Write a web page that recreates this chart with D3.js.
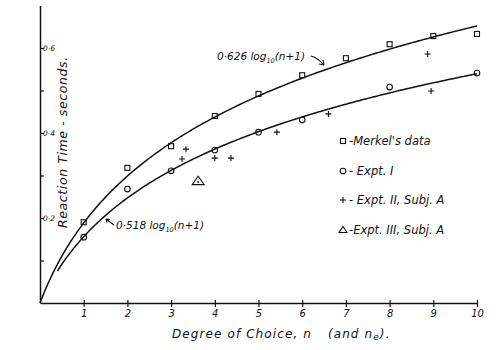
<!DOCTYPE html>
<html>
<head>
<meta charset="utf-8">
<script src="https://cdn.jsdelivr.net/npm/d3@7"></script>
<style>
  html, body { margin: 0; padding: 0; background: #fff; }
  svg { display: block; }
  text { font-family: "DejaVu Sans", sans-serif; font-style: italic; fill: #111; }
</style>
</head>
<body>
<svg id="chart" width="501" height="350"></svg>
<script>
// Reaction time against degree of choice
const merkelN = [1, 2, 3, 4, 5, 6, 7, 8, 9, 10];
const merkelT = [0.190, 0.318, 0.369, 0.440, 0.492, 0.536, 0.576, 0.609, 0.628, 0.633];

const expt1N = [1, 2, 3, 4, 5, 6, 8, 10];
const expt1T = [0.155, 0.268, 0.311, 0.360, 0.402, 0.431, 0.508, 0.541];

const expt2N = [3.25, 3.34, 4.0, 4.37, 5.42, 6.6, 8.87, 8.95];
const expt2T = [0.339, 0.362, 0.341, 0.341, 0.402, 0.445, 0.586, 0.499];

const expt3N = [3.62];
const expt3T = [0.287];

// Fitted curves: k * log10(n + 1)
const fitK = [0.626, 0.518];
const fitStart = [0, 0.4];

const xTicks = [1, 2, 3, 4, 5, 6, 7, 8, 9, 10];
const yTicks = [0.1, 0.2, 0.3, 0.4, 0.5, 0.6];
const yLabelled = [0.2, 0.4, 0.6];

const legendLabels = ["-Merkel's data", "- Expt. I", "- Expt. II, Subj. A", "-Expt. III, Subj. A"];

const svg = d3.select("#chart");
const x = d3.scaleLinear().domain([0, 10]).range([40, 477]);
const y = d3.scaleLinear().domain([0, 0.7]).range([303, 5.5]);

const ink = "#111";

// x axis, ticks crossing the line
const xAxis = svg.append("g")
  .attr("transform", `translate(0,${y(0)})`)
  .call(d3.axisBottom(x).tickValues(xTicks).tickSizeInner(4).tickSizeOuter(0).tickPadding(3));
xAxis.select(".domain").attr("stroke", ink).attr("stroke-width", 1.5);
xAxis.selectAll(".tick line").attr("y1", -3).attr("y2", 4).attr("stroke", ink).attr("stroke-width", 1.2);
xAxis.selectAll(".tick text").attr("font-size", 10).attr("font-family", "DejaVu Sans").attr("font-style", "italic").attr("fill", ink);

// y axis, inward ticks
const yAxis = svg.append("g")
  .attr("transform", `translate(${x(0)},0)`)
  .call(d3.axisRight(y).tickValues(yTicks).tickSizeInner(4).tickSizeOuter(0).tickPadding(-1)
    .tickFormat(d => yLabelled.some(v => Math.abs(v - d) < 1e-9) ? d3.format(".1f")(d).replace(".", "·") : ""));
yAxis.select(".domain").attr("stroke", ink).attr("stroke-width", 1.5);
yAxis.selectAll(".tick line").attr("stroke", ink).attr("stroke-width", 1.2);
yAxis.selectAll(".tick text").attr("font-size", 7.5).attr("font-family", "DejaVu Sans").attr("font-style", "italic").attr("fill", ink);

// fitted curves
const line = d3.line().x(d => x(d[0])).y(d => y(d[1])).curve(d3.curveMonotoneX);
fitK.forEach((k, i) => {
  const pts = d3.range(fitStart[i], 10.0001, 0.05).map(n => [n, k * Math.log10(n + 1)]);
  svg.append("path").attr("d", line(pts)).attr("fill", "none")
    .attr("stroke", ink).attr("stroke-width", 1.5);
});

// markers
const sq = 5;
svg.append("g").selectAll("rect").data(merkelN.map((n, i) => [n, merkelT[i]])).join("rect")
  .attr("x", d => x(d[0]) - sq / 2).attr("y", d => y(d[1]) - sq / 2)
  .attr("width", sq).attr("height", sq).attr("fill", "none").attr("stroke", ink).attr("stroke-width", 1.1);

svg.append("g").selectAll("circle").data(expt1N.map((n, i) => [n, expt1T[i]])).join("circle")
  .attr("cx", d => x(d[0])).attr("cy", d => y(d[1])).attr("r", 2.8)
  .attr("fill", "none").attr("stroke", ink).attr("stroke-width", 1.1);

const plus = (g, cx, cy, s) => {
  g.append("path").attr("d", `M${cx - s},${cy}H${cx + s}M${cx},${cy - s}V${cy + s}`)
    .attr("stroke", ink).attr("stroke-width", 1.1).attr("fill", "none");
};
const plusG = svg.append("g");
expt2N.forEach((n, i) => plus(plusG, x(n), y(expt2T[i]), 3));

const tri = (g, cx, cy, s) => {
  g.append("path").attr("d", `M${cx},${cy - s * 0.8}L${cx + s},${cy + s * 0.6}L${cx - s},${cy + s * 0.6}Z`)
    .attr("fill", "none").attr("stroke", ink).attr("stroke-width", 1.1);
  g.append("circle").attr("cx", cx).attr("cy", cy + s * 0.15).attr("r", 1).attr("fill", ink);
};
const triG = svg.append("g");
expt3N.forEach((n, i) => tri(triG, x(n), y(expt3T[i]), 6));

// curve labels
function logLabel(tx, ty, k) {
  const t = svg.append("text").attr("x", tx).attr("y", ty).attr("font-size", 10.5);
  t.append("tspan").text(String(k).replace(".", "·") + " log");
  t.append("tspan").attr("font-size", 6.5).attr("dy", 3).text("10");
  t.append("tspan").attr("dy", -3).text("(n+1)");
}
logLabel(217, 60, fitK[0]);
svg.append("path").attr("d", "M311,56 Q318,58 324,65").attr("fill", "none").attr("stroke", ink).attr("stroke-width", 1.1);
svg.append("path").attr("d", "M324,65 l-5,-1 M324,65 l-1,-5").attr("fill", "none").attr("stroke", ink).attr("stroke-width", 1.1);

logLabel(116, 229, fitK[1]);
svg.append("path").attr("d", "M114,225 L106,219 M106,219 l4,0.5 M106,219 l1,3.5").attr("fill", "none").attr("stroke", ink).attr("stroke-width", 1.1);

// legend
const lx = 343;
const ly = [141, 171, 200, 230];
const lg = svg.append("g");
lg.append("rect").attr("x", lx - 2.5).attr("y", ly[0] - 2.5).attr("width", 5).attr("height", 5)
  .attr("fill", "none").attr("stroke", ink).attr("stroke-width", 1.1);
lg.append("circle").attr("cx", lx).attr("cy", ly[1]).attr("r", 2.8).attr("fill", "none").attr("stroke", ink).attr("stroke-width", 1.1);
plus(lg, lx, ly[2], 3);
lg.append("path").attr("d", `M${lx},${ly[3] - 3.5}L${lx + 4},${ly[3] + 2.5}L${lx - 4},${ly[3] + 2.5}Z`)
  .attr("fill", "none").attr("stroke", ink).attr("stroke-width", 1.1);
legendLabels.forEach((s, i) => {
  lg.append("text").attr("x", lx + 6).attr("y", ly[i] + 4).attr("font-size", 11.5).text(s);
});

// axis titles
const xt = svg.append("text").attr("x", 172).attr("y", 338).attr("font-size", 12).attr("letter-spacing", 1.1);
xt.append("tspan").text("Degree of Choice, n");
xt.append("tspan").attr("dx", 16).text("(and n");
xt.append("tspan").attr("font-size", 9).attr("dy", 2).text("e");
xt.append("tspan").attr("dy", -2).text(").");

svg.append("text").attr("transform", "translate(67,228) rotate(-90)")
  .attr("font-size", 12.5).attr("letter-spacing", 0.6).text("Reaction Time - seconds.");
</script>
</body>
</html>
